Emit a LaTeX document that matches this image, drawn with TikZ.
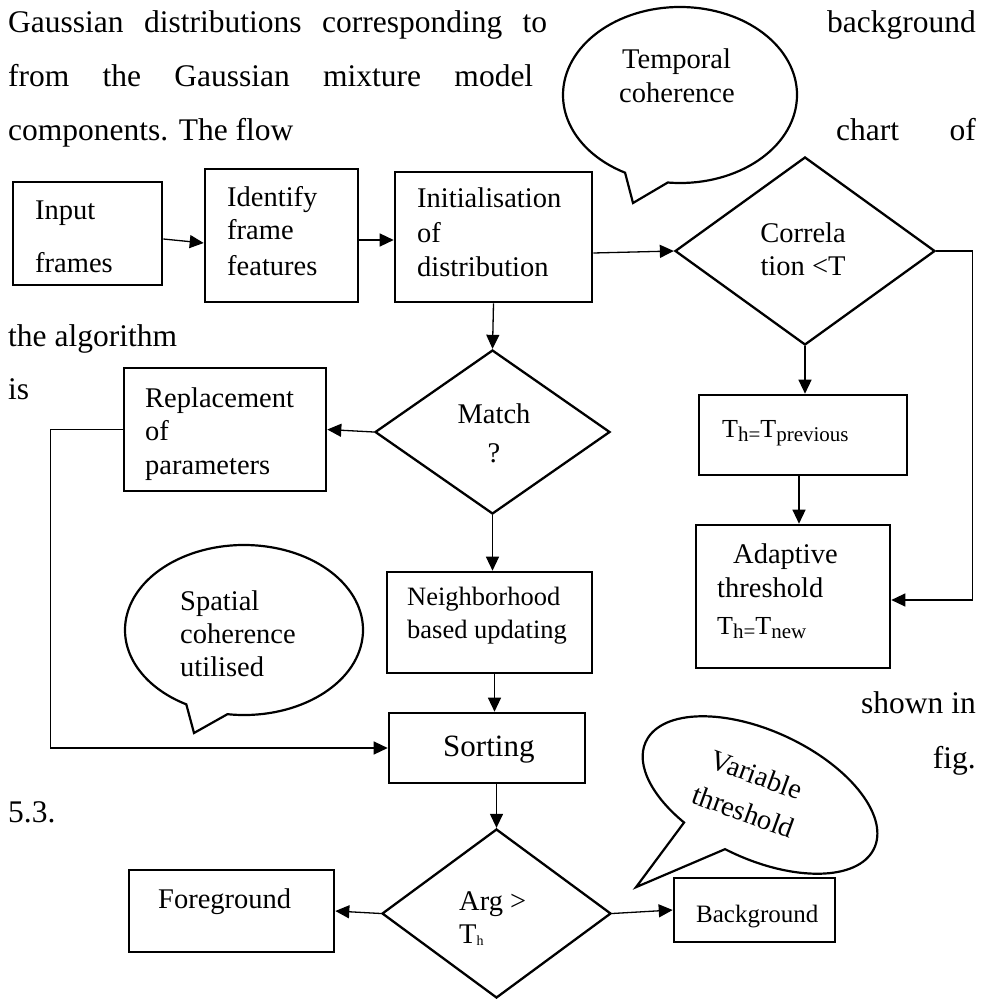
\documentclass[tikz,border=0pt]{standalone}
\usepackage{fontspec}
\setmainfont{Liberation Serif}
\usetikzlibrary{arrows.meta,shapes.geometric,calc}

% text sizes: flow-chart labels and the surrounding running text
\newcommand{\dgfont}{\fontsize{28.5pt}{35pt}\selectfont}
\newcommand{\smfont}{\fontsize{26.5pt}{30pt}\selectfont}
\newcommand{\bodyfont}{\fontsize{31.5pt}{40pt}\selectfont}
% T with a lowered, smaller index
\newcommand{\Tsub}[1]{T\raisebox{-4pt}{\fontsize{21pt}{21pt}\selectfont #1}}

\begin{document}
\begin{tikzpicture}[x=1pt,y=-1pt,
  box/.style={draw, line width=2.6pt, inner sep=0pt},
  dia/.style={draw, diamond, line width=2.3pt, inner sep=0pt},
  conn/.style={line width=1.3pt},
  arr/.style={conn, -{Triangle[length=14pt,width=13pt]}},
  lbl/.style={anchor=base west, inner sep=0pt, font=\dgfont},
  clbl/.style={anchor=base, inner sep=0pt, font=\dgfont},
  body/.style={anchor=base west, inner sep=0pt, font=\bodyfont},
  bodyr/.style={anchor=base east, inner sep=0pt, font=\bodyfont},
  bubble/.style={draw, line width=2.2pt, line join=miter}]

\useasboundingbox[fill=white] (0,0) rectangle (990,1000);

% ---------------- running text ----------------
\node[body] (t1) at (8,33) {\makebox[539pt][s]{Gaussian distributions corresponding to}};
\node[bodyr] (t1r) at (976,33) {background};
\node[body] (t2) at (8,87) {\makebox[525pt][s]{from the Gaussian mixture model}};
\node[body] (t3) at (8,141) {components. The flow};
\node[body] (t3c) at (836,141) {chart};
\node[bodyr] (t3r) at (976,141) {of};
\node[body] (t4) at (8,346) {the algorithm};
\node[body] (t5) at (8,399) {is};
\node[bodyr] (t6) at (976,713) {shown in};
\node[bodyr] (t7) at (976,768) {fig.};
\node[body] (t8) at (8,822) {5.3.};

% ---------------- boxes ----------------
\node[box, minimum width=149pt, minimum height=103pt] (inp)   at (87.5,233.5) {};
\node[box, minimum width=153pt, minimum height=133pt] (ident) at (281.5,235.5) {};
\node[box, minimum width=197pt, minimum height=130pt] (init)  at (493.5,237) {};
\node[box, minimum width=208pt, minimum height=80pt]  (thp)   at (803,435) {};
\node[box, minimum width=194pt, minimum height=143pt] (adapt) at (793,596.5) {};
\node[box, minimum width=202pt, minimum height=123pt] (repl)  at (225,429.5) {};
\node[box, minimum width=205pt, minimum height=101pt] (neigh) at (489.5,622.5) {};
\node[box, minimum width=196pt, minimum height=70pt]  (sort)  at (487,748) {};
\node[box, minimum width=205pt, minimum height=82pt]  (fg)    at (231.5,911) {};
\node[box, minimum width=161pt, minimum height=64pt]  (bg)    at (754.5,910) {};

% ---------------- decisions ----------------
\node[dia, minimum width=260pt, minimum height=188pt] (corr)  at (805,251) {};
\node[dia, minimum width=235pt, minimum height=164pt] (match) at (492.5,432) {};
\node[dia, minimum width=229pt, minimum height=169pt] (arg)   at (496.5,913.5) {};

% ---------------- labels ----------------
\node[lbl] (l-inp1) at (35,220) {Input};
\node[lbl] (l-inp2) at (35,272) {frames};
\node[lbl] (l-id1) at (227,207) {Identify};
\node[lbl] (l-id2) at (227,240) {frame};
\node[lbl] (l-id3) at (227,275) {features};
\node[lbl] (l-in1) at (417,208) {Initialisation};
\node[lbl] (l-in2) at (417,242) {of};
\node[lbl] (l-in3) at (417,276) {distribution};
\node[clbl] (l-co1) at (803,242) {Correla};
\node[clbl] (l-co2) at (803,275) {tion <T};
\node[lbl, font=\fontsize{26pt}{30pt}\selectfont] (l-th) at (722,437) {\Tsub{h=}\Tsub{previous}};
\node[lbl] (l-ad1) at (733,563) {Adaptive};
\node[lbl] (l-ad2) at (717,597) {threshold};
\node[lbl, font=\fontsize{26pt}{30pt}\selectfont] (l-ad3) at (717,634) {\Tsub{h=}\Tsub{new}};
\node[clbl] (l-ma1) at (494,423) {Match};
\node[clbl] (l-ma2) at (494,462) {?};
\node[lbl] (l-re1) at (145,407) {Replacement};
\node[lbl] (l-re2) at (145,440) {of};
\node[lbl] (l-re3) at (145,474) {parameters};
\node[lbl, font=\smfont] (l-ne1) at (407,605) {Neighborhood};
\node[lbl, font=\smfont] (l-ne2) at (407,638) {based updating};
\node[lbl, font=\fontsize{31pt}{36pt}\selectfont] (l-so) at (443,756) {Sorting};
\node[lbl] (l-ar1) at (459,910) {Arg >};
\node[lbl] (l-ar2) at (459,943) {T\raisebox{-2pt}{\fontsize{14pt}{14pt}\selectfont h}};
\node[lbl] (l-fg) at (158,908) {Foreground};
\node[lbl, font=\fontsize{25pt}{30pt}\selectfont] (l-bg) at (696,922) {Background};

% ---------------- connectors ----------------
\draw[arr] ([yshift=-5.5pt]inp.east) -- ([yshift=-7.5pt]ident.west);
\draw[arr] ([yshift=-4.5pt]ident.east) -- ([yshift=-3pt]init.west);
\draw[arr] ([yshift=-16pt]init.east) -- (corr.west);
\draw[arr] (corr.south) -- (thp.north -| corr.south);
\draw[arr] (corr.east) -- ++(36,0) |- ([yshift=-3.5pt]adapt.east);
\draw[arr] ([xshift=-4pt]thp.south) -- ([xshift=-4pt]thp.south |- adapt.north);
\draw[arr] (init.south) -- (match.north);
\draw[arr] (match.west) -- (repl.east);
\draw[arr] (repl.west) -- ++(-72,0) |- (sort.west);
\draw[arr] (match.south) -- (match.south |- neigh.north);
\draw[arr] ([xshift=5pt]neigh.south) -- ([xshift=5pt]neigh.south |- sort.north);
\draw[arr] (arg.north |- sort.south) -- (arg.north);
\draw[arr] (arg.west) -- (fg.east);
\draw[arr] (arg.east) -- (bg.west);

% ---------------- callouts ----------------
\coordinate (tc) at (680,95);
\coordinate (ttip) at (633,203);
\draw[bubble] ($(tc)+(118:117 and 88)$) -- (ttip) -- ($(tc)+(96:117 and 88)$)
  arc[start angle=96, end angle=-242, x radius=117, y radius=88] -- cycle;
\node[lbl] (l-te1) at (622,69) {Temporal};
\node[lbl] (l-te2) at (619,103) {coherence};

\coordinate (sc) at (244,630);
\coordinate (stip) at (194,733);
\draw[bubble] ($(sc)+(119:119 and 85)$) -- (stip) -- ($(sc)+(98:119 and 85)$)
  arc[start angle=98, end angle=-241, x radius=119, y radius=85] -- cycle;
\node[lbl] (l-sp1) at (180,610) {Spatial};
\node[lbl] (l-sp2) at (180,643) {coherence};
\node[lbl] (l-sp3) at (180,676) {utilised};

\begin{scope}[shift={(760,795)}, rotate=-25]
  \coordinate (vtip) at (-73.4,135.9);
  \draw[bubble] (117:126 and 64) -- (vtip) -- (94:126 and 64)
    arc[start angle=94, end angle=-243, x radius=126, y radius=64] -- cycle;
\end{scope}
\node[inner sep=0pt, align=center, rotate=-20, font=\fontsize{28.5pt}{39pt}\selectfont]
  (l-va) at (750,793) {Variable\\threshold};

\end{tikzpicture}
\end{document}
